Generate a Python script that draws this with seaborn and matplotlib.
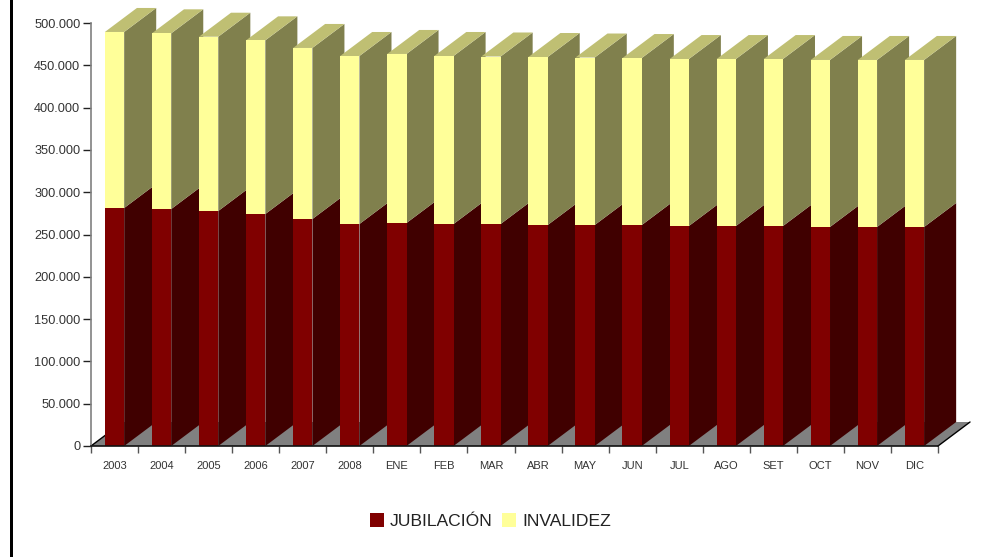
import matplotlib
matplotlib.use("Agg")
import matplotlib.pyplot as plt
from matplotlib.patches import Polygon, Rectangle
from matplotlib.ticker import FuncFormatter, MultipleLocator, FixedLocator
import seaborn as sns

periodos = ["2003", "2004", "2005", "2006", "2007", "2008", "ENE", "FEB", "MAR",
            "ABR", "MAY", "JUN", "JUL", "AGO", "SET", "OCT", "NOV", "DIC"]
jubilacion = [281300, 280100, 277800, 274200, 268300, 262400, 263600, 262400, 262400,
              261200, 261200, 261200, 260000, 260000, 260000, 258900, 258900, 258900]
invalidez = [208100, 207700, 206000, 205300, 202200, 198600, 199800, 198600, 198000,
             198600, 198000, 197400, 197400, 197400, 197400, 197400, 197400, 197400]

# colores: frente, lado, tapa
ROJO = ("#800000", "#400000")
AMARILLO = ("#ffff99", "#80804d", "#bfbf73")
GRIS = "#808080"

W, H = 1000, 557
sns.set_theme(style="white", font="Liberation Sans")

fig = plt.figure(figsize=(W / 100, H / 100), dpi=100)
ax = fig.add_axes([91 / W, 1 - 446 / H, 847 / W, 423 / H])

sns.barplot(x=periodos, y=jubilacion, color=ROJO[0], saturation=1, width=0.41,
            linewidth=0, edgecolor="none", label="JUBILACIÓN", ax=ax)
sns.barplot(x=periodos, y=invalidez, bottom=jubilacion, color=AMARILLO[0], saturation=1,
            width=0.41, linewidth=0, edgecolor="none", label="INVALIDEZ", ax=ax)
ax.set_xlim(-0.5, 17.5)
ax.set_ylim(0, 500000)

# profundidad del efecto 3D, en unidades de datos
dx = 32 / 47
dy = 24 / 423 * 500000

# piso
piso = Polygon([(-0.5, 0), (17.5, 0), (17.5 + dx, dy), (-0.5 + dx, dy)], closed=True,
               facecolor=GRIS, edgecolor="none", clip_on=False, zorder=1)
ax.add_patch(piso)
ax.plot([-0.5, -0.5 + dx], [0, dy], color="black", lw=1, clip_on=False, zorder=1.5)
ax.plot([17.5, 17.5 + dx], [0, dy], color="black", lw=1, clip_on=False, zorder=1.5)

rojas, amarillas = ax.containers[0], ax.containers[1]
for i, (r, a) in enumerate(zip(rojas, amarillas)):
    z = 2 + i
    x1 = r.get_x() + r.get_width()
    y1 = r.get_height()
    y2 = y1 + a.get_height()
    x0 = r.get_x()
    ax.add_patch(Polygon([(x1, 0), (x1 + dx, dy), (x1 + dx, y1 + dy), (x1, y1)],
                         facecolor=ROJO[1], edgecolor="none", clip_on=False, zorder=z))
    ax.add_patch(Polygon([(x1, y1), (x1 + dx, y1 + dy), (x1 + dx, y2 + dy), (x1, y2)],
                         facecolor=AMARILLO[1], edgecolor="none", clip_on=False, zorder=z))
    ax.add_patch(Polygon([(x0, y2), (x1, y2), (x1 + dx, y2 + dy), (x0 + dx, y2 + dy)],
                         facecolor=AMARILLO[2], edgecolor="none", clip_on=False, zorder=z))
    r.set_zorder(z + 0.5)
    a.set_zorder(z + 0.5)

# ejes
sns.despine(ax=ax)
ax.spines["left"].set_color(GRIS)
ax.spines["left"].set_linewidth(1.2)
ax.spines["bottom"].set_color("#111111")
ax.spines["bottom"].set_linewidth(1.2)
ax.spines["bottom"].set_zorder(30)
ax.spines["left"].set_zorder(30)

ax.yaxis.set_major_locator(MultipleLocator(50000))
ax.yaxis.set_major_formatter(FuncFormatter(lambda v, _: f"{int(v):,}".replace(",", ".")))
ax.tick_params(axis="y", left=True, length=5.5, width=1, color="#222222", pad=2.2,
               labelsize=9.2, labelcolor="#333333")
ax.xaxis.set_minor_locator(FixedLocator([i - 0.5 for i in range(len(periodos) + 1)]))
ax.tick_params(axis="x", which="major", bottom=False, pad=9 - 4.5, labelsize=8, labelcolor="#333333")
ax.tick_params(axis="x", which="minor", bottom=True, length=5, width=1, color="#555555")

ax.legend(handles=[rojas, amarillas], loc="center", bbox_to_anchor=(490.5 / W, 1 - 521 / H),
          bbox_transform=fig.transFigure, ncol=2, frameon=False, fontsize=12.6,
          handlelength=0.8, handleheight=0.8, handletextpad=0.35, columnspacing=0.55,
          labelcolor="#222222")

# linea negra del borde izquierdo
fig.add_artist(Rectangle((10 / W, 0), 3 / W, 1, transform=fig.transFigure,
                         facecolor="black", edgecolor="none"))

fig.savefig("out.png", dpi=100)
